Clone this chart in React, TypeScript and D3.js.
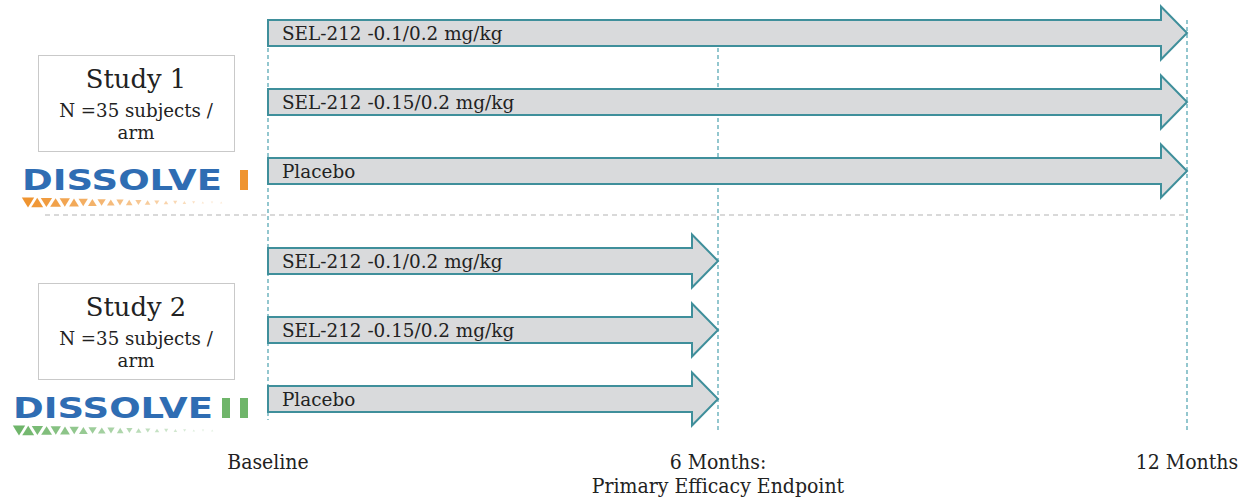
import React from "react";
import * as d3 from "d3";

// ---- data ----
const studies = ["Study 1", "Study 2"];
const studyDurations = [12, 6]; // months of treatment
const subjectsPerArm = [35, 35];
const trialNames = ["DISSOLVE", "DISSOLVE"];
const trialNumerals = ["I", "II"];
const armLabels = ["SEL-212 -0.1/0.2 mg/kg", "SEL-212 -0.15/0.2 mg/kg", "Placebo"];
const timepoints = [0, 6, 12];
const timeLabels = [["Baseline"], ["6 Months:", "Primary Efficacy Endpoint"], ["12 Months"]];

const W = 1252;
const H = 502;
const SERIF = "'DejaVu Serif', serif";
const TEAL = "#3f8f9b";
const DASH_TEAL = "#5aa9b5";
const FILL = "#d9dadc";
const BLUE = "#2f6db3";
const accent = ["#ef9430", "#6fb56a"];

export default function App() {
  const x = d3.scaleLinear().domain(timepoints).range([268, 718, 1187]);
  const studyY = d3.scaleBand<string>().domain(studies).range([0, 456]);
  const armY = d3.scalePoint<string>().domain(armLabels).range([33, 171]);

  const headLen = 26;
  const bodyHalf = 13;
  const headHalf = 26.5;
  const arrowPath = (x0: number, x1: number, cy: number) => {
    const p = d3.path();
    p.moveTo(x0, cy - bodyHalf);
    p.lineTo(x1 - headLen, cy - bodyHalf);
    p.lineTo(x1 - headLen, cy - headHalf);
    p.lineTo(x1, cy);
    p.lineTo(x1 - headLen, cy + headHalf);
    p.lineTo(x1 - headLen, cy + bodyHalf);
    p.lineTo(x0, cy + bodyHalf);
    p.closePath();
    return p.toString();
  };

  const sepY = (studyY(studies[1]) ?? 0) - 13;

  return (
    <svg
      width={W}
      height={H}
      style={{ position: "absolute", left: 0, top: 0, background: "#fff" }}
    >
      {/* vertical dashed timepoint lines */}
      {timepoints.map((t, i) => (
        <line
          key={"v" + i}
          x1={x(t)}
          x2={x(t)}
          y1={20}
          y2={i === 0 ? 420 : 430}
          stroke={DASH_TEAL}
          strokeWidth={1.3}
          strokeDasharray="4,3"
        />
      ))}
      {/* study separator */}
      <line
        x1={45}
        x2={x(12)}
        y1={sepY}
        y2={sepY}
        stroke="#b4b4b4"
        strokeWidth={1.2}
        strokeDasharray="5,4"
      />

      {studies.map((s, si) => {
        const oy = studyY(s) ?? 0;
        const col = accent[si];
        const numeral = trialNumerals[si];
        const logoX = si === 0 ? 22 : 13;
        const logoW = 200;
        const logoBase = oy + 190;
        const triY = oy + 198;
        const tris = d3.range(22);
        return (
          <g key={s}>
            {/* study box */}
            <rect
              x={38.5}
              y={oy + 55.5}
              width={196}
              height={96}
              fill="#fff"
              stroke="#c9c9c9"
              strokeWidth={1}
            />
            <text x={136} y={oy + 88} fontFamily={SERIF} fontSize={25.8} textAnchor="middle" fill="#222">
              {s}
            </text>
            <text x={136} y={oy + 117} fontFamily={SERIF} fontSize={18.2} textAnchor="middle" fill="#222">
              {`N =${subjectsPerArm[si]} subjects /`}
            </text>
            <text x={136} y={oy + 139} fontFamily={SERIF} fontSize={18.2} textAnchor="middle" fill="#222">
              arm
            </text>

            {/* logo */}
            <text
              x={logoX}
              y={logoBase}
              fontFamily="'DejaVu Sans', sans-serif"
              fontWeight="bold"
              fontSize={28}
              fill={BLUE}
              textLength={logoW}
              lengthAdjust="spacingAndGlyphs"
            >
              {trialNames[si]}
            </text>
            {numeral.split("").map((_, k) => (
              <rect
                key={k}
                x={(si === 0 ? 240 : 222) + k * 18}
                y={logoBase - 20}
                width={8}
                height={20}
                fill={col}
              />
            ))}
            {tris.map((k) => {
              const cx = logoX + 6 + k * 9.2;
              const sz = Math.max(1.2, 6.2 - k * 0.26);
              const down = k % 2 === 0;
              const cy = triY + 4.5;
              const hh = sz * 0.8;
              const pts = down
                ? [[cx - sz, cy - hh], [cx + sz, cy - hh], [cx, cy + hh]]
                : [[cx - sz, cy + hh], [cx + sz, cy + hh], [cx, cy - hh]];
              return (
                <polygon
                  key={k}
                  points={pts.map((p) => p.join(",")).join(" ")}
                  fill={col}
                  opacity={Math.max(0.2, 1 - k * 0.04)}
                />
              );
            })}

            {/* arms */}
            {armLabels.map((a, ai) => {
              const cy = oy + (armY(a) ?? 0);
              const x0 = x(0);
              const x1 = x(studyDurations[si]);
              return (
                <g key={a}>
                  <path d={arrowPath(x0, x1, cy)} fill={FILL} stroke={TEAL} strokeWidth={2} strokeLinejoin="miter" />
                  <text x={x0 + 14} y={cy + 7} fontFamily={SERIF} fontSize={18.4} fill="#222">
                    {a}
                  </text>
                </g>
              );
            })}
          </g>
        );
      })}

      {/* time axis labels */}
      {timepoints.map((t, i) => (
        <text
          key={"t" + i}
          x={x(t)}
          y={469}
          fontFamily={"'DejaVu Serif Condensed', 'DejaVu Serif', serif"}
          fontStretch="condensed"
          fontSize={21}
          textAnchor="middle"
          fill="#222"
        >
          {timeLabels[i].map((l, li) => (
            <tspan key={li} x={x(t)} dy={li === 0 ? 0 : 24}>
              {l}
            </tspan>
          ))}
        </text>
      ))}
    </svg>
  );
}
